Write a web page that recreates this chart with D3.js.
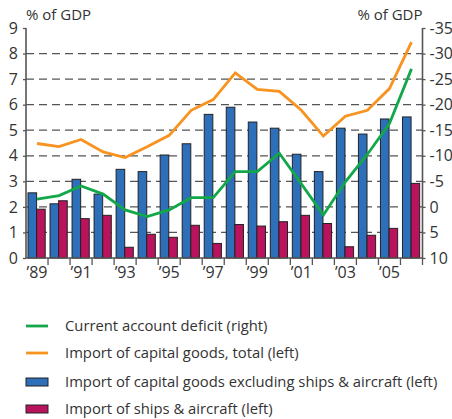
<!DOCTYPE html>
<html><head><meta charset="utf-8">
<script src="https://cdn.jsdelivr.net/npm/d3@7"></script>
<style>
html,body{margin:0;padding:0;background:#fff;}
svg{display:block;font-family:"Open Sans",sans-serif;}
</style></head><body>
<svg id="c" width="452" height="419"></svg>
<script>
const years = [1989,1990,1991,1992,1993,1994,1995,1996,1997,1998,1999,2000,2001,2002,2003,2004,2005,2006];
const xTickLabels = {1989:"’89",1991:"’91",1993:"’93",1995:"’95",1997:"’97",1999:"’99",2001:"’01",2003:"’03",2005:"’05"};
const capExShipsAir = [2.55,2.12,3.08,2.50,3.47,3.38,4.03,4.47,5.62,5.90,5.32,5.08,4.06,3.38,5.08,4.85,5.44,5.52];
const shipsAir = [1.91,2.24,1.54,1.67,0.42,0.93,0.81,1.28,0.57,1.31,1.25,1.42,1.67,1.35,0.44,0.89,1.16,2.92];
const capTotal = [4.48,4.36,4.64,4.15,3.93,4.35,4.80,5.78,6.20,7.24,6.60,6.52,5.78,4.77,5.55,5.78,6.63,8.45];
const currentAccountDeficit = [-1.5,-2.2,-4.1,-2.5,0.6,1.9,0.6,-1.8,-1.8,-6.9,-6.9,-10.5,-4.5,1.6,-4.9,-10.3,-16.3,-27.0];
const leftTicks = [0,1,2,3,4,5,6,7,8,9];
const rightTicks = [-35,-30,-25,-20,-15,-10,-5,0,5,10];
const legendItems = [
  {label:"Current account deficit (right)", type:"line", color:"#12a84a"},
  {label:"Import of capital goods, total (left)", type:"line", color:"#f7931e"},
  {label:"Import of capital goods excluding ships & aircraft (left)", type:"rect", color:"#2e6fba"},
  {label:"Import of ships & aircraft (left)", type:"rect", color:"#b8135c"}
];

const L=26, R=422.5, T=28, B=258;
const textColor="#333";
const svg=d3.select("#c");

const x=d3.scaleBand().domain(years).range([L,R]).paddingInner(0).paddingOuter(0);
const yL=d3.scaleLinear().domain([0,9]).range([B,T]);
const yR=d3.scaleLinear().domain([10,-35]).range([B,T]);

// grid
svg.append("g").selectAll("line").data(leftTicks.filter(d=>d>0&&d<9)).join("line")
  .attr("x1",L).attr("x2",R).attr("y1",d=>yL(d)).attr("y2",d=>yL(d))
  .attr("stroke","#555").attr("stroke-width",1.3).attr("stroke-dasharray","8,5");

// bars
const bw=8.6, off=2;
svg.append("g").selectAll("rect").data(years).join("rect")
  .attr("x",d=>x(d)+off).attr("width",bw)
  .attr("y",(d,i)=>yL(capExShipsAir[i])).attr("height",(d,i)=>yL(0)-yL(capExShipsAir[i]))
  .attr("fill",legendItems[2].color).attr("stroke","#222").attr("stroke-width",1);
svg.append("g").selectAll("rect").data(years).join("rect")
  .attr("x",d=>x(d)+off+bw).attr("width",bw)
  .attr("y",(d,i)=>yL(shipsAir[i])).attr("height",(d,i)=>yL(0)-yL(shipsAir[i]))
  .attr("fill",legendItems[3].color).attr("stroke","#222").attr("stroke-width",1);

// lines
const cx=d=>x(d)+x.bandwidth()/2;
svg.append("path").datum(years)
  .attr("d",d3.line().x(cx).y((d,i)=>yL(capTotal[i])))
  .attr("fill","none").attr("stroke",legendItems[1].color).attr("stroke-width",2.8).attr("stroke-linejoin","miter");
svg.append("path").datum(years)
  .attr("d",d3.line().x(cx).y((d,i)=>yR(currentAccountDeficit[i])))
  .attr("fill","none").attr("stroke",legendItems[0].color).attr("stroke-width",2.8);

// axes
const axisColor="#555";
const gl=svg.append("g").attr("transform",`translate(${L},0)`)
  .call(d3.axisLeft(yL).tickValues(leftTicks).tickSize(3).tickPadding(5).tickFormat(d3.format("d")));
const gr=svg.append("g").attr("transform",`translate(${R},0)`)
  .call(d3.axisRight(yR).tickValues(rightTicks).tickSize(3).tickPadding(4).tickFormat(d=>d<0?"-"+Math.abs(d):String(d)));
const gb=svg.append("g").attr("transform",`translate(0,${B})`)
  .call(d3.axisBottom(x).tickSize(0).tickPadding(9).tickFormat(d=>xTickLabels[d]||""));
// boundary ticks
svg.append("g").selectAll("line").data(years.slice(1).concat(["end"])).join("line")
  .attr("x1",d=>d==="end"?R:x(d)).attr("x2",d=>d==="end"?R:x(d))
  .attr("y1",B).attr("y2",B+7).attr("stroke",axisColor).attr("stroke-width",1.3);
[gl,gr,gb].forEach(g=>{
  g.select(".domain").attr("stroke",axisColor).attr("stroke-width",1.6);
  g.selectAll(".tick line").attr("stroke",axisColor).attr("stroke-width",1.3);
  g.selectAll("text").attr("fill",textColor).style("font-size","16px").style("font-family","'Open Sans',sans-serif");
});
gl.select(".domain").attr("d",`M0,${B}V${T}`);
gr.select(".domain").attr("d",`M0,${B}V${T}`);
gb.select(".domain").attr("d",`M${L},0H${R}`);

// titles
svg.append("text").attr("x",L).attr("y",20).text("% of GDP").attr("fill",textColor).style("font-size","15px");
svg.append("text").attr("x",R).attr("y",20).attr("text-anchor","end").text("% of GDP").attr("fill",textColor).style("font-size","15px");

// legend
const lg=svg.append("g");
const ly=[326,353,382,409];
legendItems.forEach((it,i)=>{
  if(it.type==="line"){
    lg.append("line").attr("x1",26).attr("x2",48).attr("y1",ly[i]).attr("y2",ly[i]).attr("stroke",it.color).attr("stroke-width",2.8);
  } else {
    lg.append("rect").attr("x",26).attr("y",ly[i]-4).attr("width",22).attr("height",8).attr("fill",it.color).attr("stroke","#222").attr("stroke-width",1);
  }
  lg.append("text").attr("x",65).attr("y",ly[i]+5).text(it.label).attr("fill",textColor).style("font-size","14.8px");
});
</script>
</body></html>
